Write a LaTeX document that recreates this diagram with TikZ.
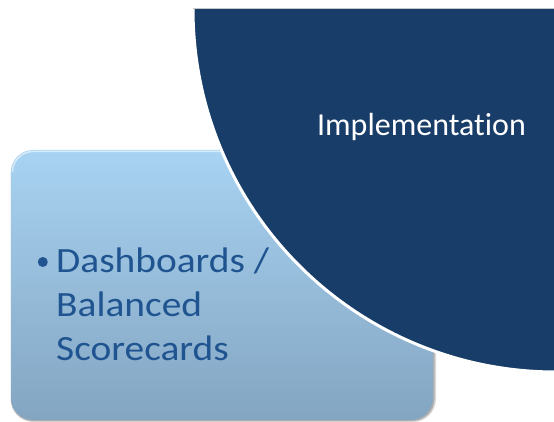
\documentclass[tikz,border=0pt]{standalone}
\usepackage{fontspec}
\setmainfont[Ligatures=NoCommon]{Carlito}
\newfontfamily\boxfont[FakeStretch=1.11, Ligatures=NoCommon]{Carlito}
\definecolor{navy}{RGB}{24,61,105}
\definecolor{boxtop}{RGB}{168,211,242}
\definecolor{boxbot}{RGB}{131,165,193}
\definecolor{boxtext}{RGB}{31,84,144}
\tikzset{
  boxline/.style={anchor=base west, inner sep=0pt, text=boxtext, font=\boxfont\fontsize{35.5}{43}\selectfont},
  bulletdot/.style={circle, fill=boxtext, inner sep=0pt, minimum size=10pt},
  sectortext/.style={anchor=base, inner sep=0pt, text=white, font=\fontsize{32}{38}\selectfont}
}
\begin{document}
\begin{tikzpicture}[x=1pt,y=-1pt]
\useasboundingbox (0,0) rectangle (554,422);
% box shadow
\fill[black, opacity=0.15, rounded corners=23pt] (10.5,152) rectangle (436,422);
\fill[black, opacity=0.2, rounded corners=22pt] (11,151) rectangle (434.5,421);
% box
\shade[top color=boxtop, bottom color=boxbot, rounded corners=22pt] (11,150) rectangle (433,420);
\draw[white, opacity=0.55, line width=1.5pt] (12.5,172) arc[start angle=180, end angle=270, radius=20.5] -- (412.5,151.5) arc[start angle=270, end angle=360, radius=19];
% text in box
\node[bulletdot] (bullet) at (42.8,262) {};
\node[boxline] (line1) at (56,272) {Dashboards /};
\node[boxline] (line2) at (56,316) {Balanced};
\node[boxline] (line3) at (56,360) {Scorecards};
% sector
\begin{scope}
  \clip (0,9) rectangle (554,422);
  \fill[navy] (556,9) circle[radius=363pt];
  \draw[white, line width=3pt] (556,9) circle[radius=363pt];
\end{scope}
\draw[gray!45, line width=0.8pt] (193,8.6) -- (554,8.6);
\node[sectortext] (impl) at (421.5,136) {Implementation};
\end{tikzpicture}
\end{document}
